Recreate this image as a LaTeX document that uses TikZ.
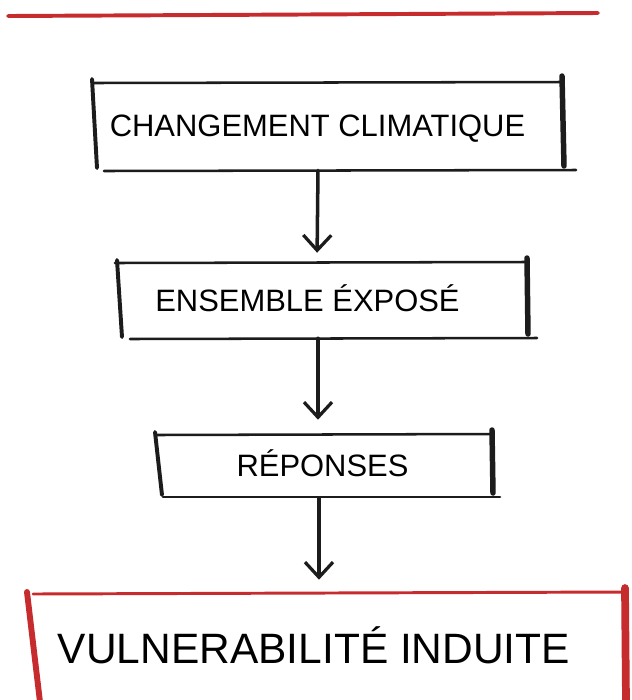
\documentclass[tikz,border=0pt]{standalone}
\usepackage{fontspec}
\setmainfont{Liberation Sans}
\usepackage{xcolor}
\usetikzlibrary{arrows.meta, positioning, calc}
\definecolor{pencil}{HTML}{1C1C1C}
\definecolor{crayon}{HTML}{C62B2E}

\begin{document}
\begin{tikzpicture}[x=0.025cm, y=-0.025cm,
		boxtext/.style={inner sep=0pt, text height=15.7pt, text depth=0pt, font=\fontsize{22}{26}\selectfont},
		bigtext/.style={inner sep=0pt, text height=21.6pt, text depth=0pt, font=\fontsize{30.2}{36}\selectfont},
		pen/.style={pencil, line cap=round},
		flow/.style={pencil, line width=2.5pt, line cap=round, -{Straight Barb[length=0.38cm, width=0.7cm, line width=2.3pt]}}]
			\useasboundingbox (0,0) rectangle (632,700);
			% red rule on top
			\draw[crayon, line width=2.8pt, line cap=round] (8,16) -- (598,13);
			% the four labels
			\node[boxtext, minimum height=2.25cm] (clim) at (317.5,125) {CHANGEMENT CLIMATIQUE};
			\node[boxtext, minimum height=1.9cm] (expo) at (307.5,300) {ENSEMBLE ÉXPOSÉ};
			\node[boxtext, minimum height=1.65cm] (resp) at (322.5,465) {RÉPONSES};
			\node[bigtext, minimum height=2.75cm] (vuln) at (314,648) {VULNERABILITÉ INDUITE};
			% sketched frames
			\draw[pen, line width=1.8pt] (93,83) -- (562,82);
			\draw[pen, line width=1.8pt] (104,171) -- (576,170);
			\draw[pen, line width=2.8pt] (92,79) -- (97,168);
			\draw[pen, line width=3.9pt] (562,76) -- (564,166);
			\draw[pen, line width=1.8pt] (115,263) -- (525,262);
			\draw[pen, line width=1.8pt] (130,339) -- (537,338);
			\draw[pen, line width=2.8pt] (117,260) -- (122,337);
			\draw[pen, line width=3.9pt] (527,258) -- (528,334);
			\draw[pen, line width=1.8pt] (157,435) -- (492,434);
			\draw[pen, line width=1.8pt] (163,497) -- (500,497);
			\draw[pen, line width=2.8pt] (155,432) -- (162,495);
			\draw[pen, line width=3.9pt] (492,430) -- (493,493);
			\draw[crayon, line cap=round, line width=2.1pt] (33,594) -- (625,592);
			\draw[crayon, line cap=round, line width=4.2pt] (27,592) -- (40,702);
			\draw[crayon, line cap=round, line width=5.5pt] (625,588) -- (626,702);
			% arrows
			\draw[flow, shorten >=0.225cm] (clim.south -| 318,0) -- (expo.north -| 317,0);
			\draw[flow, shorten >=0.3cm] (expo.south -| 318,0) -- (resp.north -| 318,0);
			\draw[flow, shorten >=0.325cm] (resp.south -| 319,0) -- (vuln.north -| 319,0);
		\end{tikzpicture}
\end{document}
